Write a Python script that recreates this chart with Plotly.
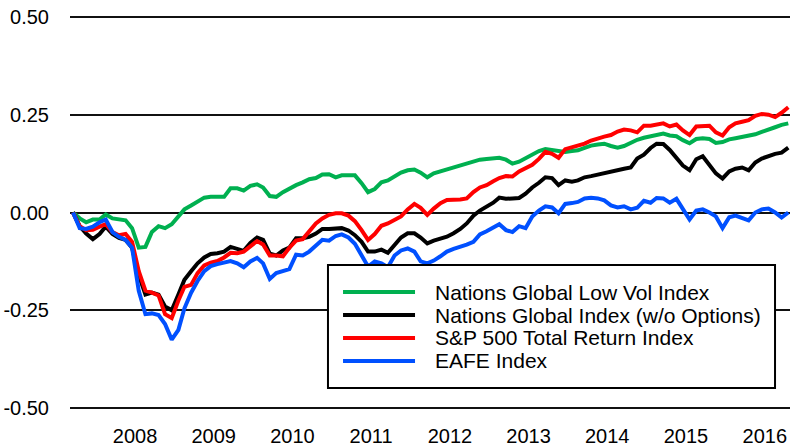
import pandas as pd
import plotly.graph_objects as go

# Monthly dates
dates = pd.date_range("2007-10-01", periods=110, freq="MS")

low_vol = [0, -0.015, -0.025, -0.018, -0.018, -0.005, -0.015, -0.018, -0.02, -0.04,
           -0.09, -0.088, -0.05, -0.035, -0.04, -0.03, -0.01, 0.008, 0.018, 0.028,
           0.038, 0.04, 0.04, 0.04, 0.062, 0.062, 0.056, 0.068, 0.072, 0.064,
           0.042, 0.04, 0.052, 0.062, 0.07, 0.077, 0.085, 0.088, 0.097, 0.098,
           0.09, 0.095, 0.096, 0.095, 0.075, 0.052, 0.06, 0.077, 0.082, 0.092,
           0.102, 0.108, 0.11, 0.102, 0.09, 0.1, 0.105, 0.108, 0.115, 0.12,
           0.124, 0.13, 0.135, 0.137, 0.138, 0.14, 0.135, 0.125, 0.13, 0.138,
           0.146, 0.157, 0.162, 0.16, 0.157, 0.155, 0.157, 0.159, 0.165, 0.171,
           0.174, 0.176, 0.17, 0.166, 0.17, 0.178, 0.186, 0.191, 0.195, 0.2,
           0.202, 0.197, 0.195, 0.185, 0.177, 0.188, 0.19, 0.188, 0.178, 0.18,
           0.187, 0.19, 0.193, 0.197, 0.2, 0.206, 0.213, 0.218, 0.224, 0.228]

global_idx = [0, -0.035, -0.054, -0.068, -0.055, -0.036, -0.055, -0.065, -0.07, -0.09,
              -0.16, -0.21, -0.205, -0.21, -0.24, -0.25, -0.21, -0.172, -0.15, -0.13,
              -0.115, -0.106, -0.104, -0.1, -0.088, -0.092, -0.098, -0.078, -0.064, -0.07,
              -0.105, -0.11, -0.097, -0.09, -0.066, -0.066, -0.062, -0.054, -0.042, -0.042,
              -0.042, -0.04, -0.046, -0.058, -0.075, -0.1, -0.1, -0.095, -0.103, -0.082,
              -0.064, -0.053, -0.053, -0.064, -0.079, -0.072, -0.068, -0.062, -0.053, -0.042,
              -0.028, -0.008, 0.005, 0.015, 0.025, 0.038, 0.035, 0.036, 0.037, 0.048,
              0.064, 0.076, 0.09, 0.088, 0.07, 0.082, 0.079, 0.082, 0.09, 0.093,
              0.097, 0.101, 0.105, 0.11, 0.112, 0.115, 0.138, 0.148, 0.165, 0.176,
              0.175, 0.16, 0.14, 0.12, 0.108, 0.136, 0.144, 0.122, 0.1, 0.087,
              0.105, 0.112, 0.115, 0.108, 0.128, 0.138, 0.144, 0.15, 0.153, 0.166]

sp500 = [0, -0.035, -0.045, -0.044, -0.036, -0.03, -0.05, -0.058, -0.055, -0.075,
         -0.15, -0.2, -0.205, -0.212, -0.26, -0.27, -0.225, -0.19, -0.185, -0.155,
         -0.135, -0.128, -0.124, -0.115, -0.103, -0.104, -0.1, -0.085, -0.073, -0.082,
         -0.11, -0.11, -0.112, -0.09, -0.072, -0.068, -0.05, -0.028, -0.015, -0.006,
         -0.002, -0.002, -0.008, -0.022, -0.045, -0.07, -0.055, -0.034, -0.028, -0.02,
         -0.01, 0.008, 0.022, 0.012, -0.006, 0.01, 0.024, 0.032, 0.032, 0.033,
         0.036, 0.052, 0.064, 0.07, 0.08, 0.088, 0.093, 0.092, 0.105, 0.113,
         0.122, 0.137, 0.155, 0.15, 0.14, 0.162, 0.167, 0.17, 0.176, 0.184,
         0.19, 0.194, 0.198, 0.207, 0.212, 0.21, 0.205, 0.222, 0.222, 0.226,
         0.228, 0.22, 0.225, 0.21, 0.198, 0.22, 0.222, 0.222, 0.205, 0.197,
         0.218, 0.228, 0.232, 0.236, 0.247, 0.252, 0.25, 0.244, 0.255, 0.269]

eafe = [0, -0.04, -0.042, -0.036, -0.025, -0.018, -0.05, -0.062, -0.07, -0.09,
        -0.2, -0.26, -0.258, -0.262, -0.285, -0.325, -0.3, -0.245, -0.205, -0.175,
        -0.15, -0.137, -0.132, -0.128, -0.124, -0.13, -0.14, -0.125, -0.116, -0.13,
        -0.17, -0.155, -0.15, -0.145, -0.108, -0.11, -0.1, -0.085, -0.07, -0.072,
        -0.06, -0.056, -0.064, -0.08, -0.11, -0.138, -0.125, -0.13, -0.14, -0.11,
        -0.097, -0.092, -0.1, -0.125, -0.13, -0.123, -0.112, -0.1, -0.093, -0.088,
        -0.082, -0.075, -0.056, -0.048, -0.04, -0.03, -0.045, -0.05, -0.035, -0.04,
        -0.01, 0.005, 0.016, 0.013, -0.002, 0.022, 0.024, 0.027, 0.036, 0.038,
        0.036, 0.031, 0.018, 0.013, 0.016, 0.008, 0.012, 0.03, 0.025, 0.037,
        0.036, 0.025, 0.035, 0.01, -0.018, 0.005, 0.008, 0.0, -0.01, -0.04,
        -0.012, -0.008, -0.013, -0.02, 0.0, 0.008, 0.01, 0.0, -0.013, 0.0]

series_names = ["Nations Global Low Vol Index", "Nations Global Index (w/o Options)",
                "S&P 500 Total Return Index", "EAFE Index"]
series_values = [low_vol, global_idx, sp500, eafe]
series_colors = ["#00B050", "#000000", "#FF0000", "#0050FF"]

year_labels = ["2008", "2009", "2010", "2011", "2012", "2013", "2014", "2015", "2016"]
year_ticks = [f"{y}-07-15" for y in year_labels]
y_ticks = [0.5, 0.25, 0.0, -0.25, -0.5]
y_labels = ["0.50", "0.25", "0.00", "-0.25", "-0.50"]

FONT = "Arial, Liberation Sans, sans-serif"

fig = go.Figure()
for name, vals, col in zip(series_names, series_values, series_colors):
    fig.add_trace(go.Scatter(x=dates, y=vals, name=name, mode="lines",
                             line=dict(color=col, width=4), showlegend=False))

# Legend box (drawn manually for exact row spacing)
shapes = [dict(type="rect", xref="paper", yref="paper", x0=0.3583, x1=0.9792,
               y0=0.0557, y1=0.3671, fillcolor="white",
               line=dict(color="black", width=2), layer="above")]
annotations = []
row_y = [0.2987, 0.2405, 0.1823, 0.1241]
for name, col, ry in zip(series_names, series_colors, row_y):
    shapes.append(dict(type="line", xref="paper", yref="paper", x0=0.3792, x1=0.4792,
                       y0=ry, y1=ry, line=dict(color=col, width=4), layer="above"))
    annotations.append(dict(xref="paper", yref="paper", x=0.5042, y=ry, text=name,
                            showarrow=False, xanchor="left", yanchor="middle",
                            font=dict(family=FONT, size=21, color="black")))

fig.update_layout(
    width=800, height=448,
    margin=dict(l=70, r=10, t=15, b=38, autoexpand=False),
    paper_bgcolor="white", plot_bgcolor="white",
    font=dict(family=FONT, size=20, color="black"),
    showlegend=False,
    shapes=shapes, annotations=annotations,
)
fig.update_xaxes(range=["2007-09-17", "2016-11-09"], tickvals=year_ticks, ticktext=year_labels,
                 showgrid=False, zeroline=False, showline=False, ticks="", automargin=False,
                 ticklabelstandoff=12, tickfont=dict(size=20))
fig.update_yaxes(range=[-0.505, 0.505], tickvals=y_ticks, ticktext=y_labels,
                 showgrid=True, gridcolor="#111111", gridwidth=2, automargin=False,
                 zeroline=False, showline=False, ticks="",
                 ticklabelstandoff=20, tickfont=dict(size=20))

fig.write_html("out.html", config={"displayModeBar": False},
               post_script="document.body.style.margin='0';document.body.style.padding='0';")
